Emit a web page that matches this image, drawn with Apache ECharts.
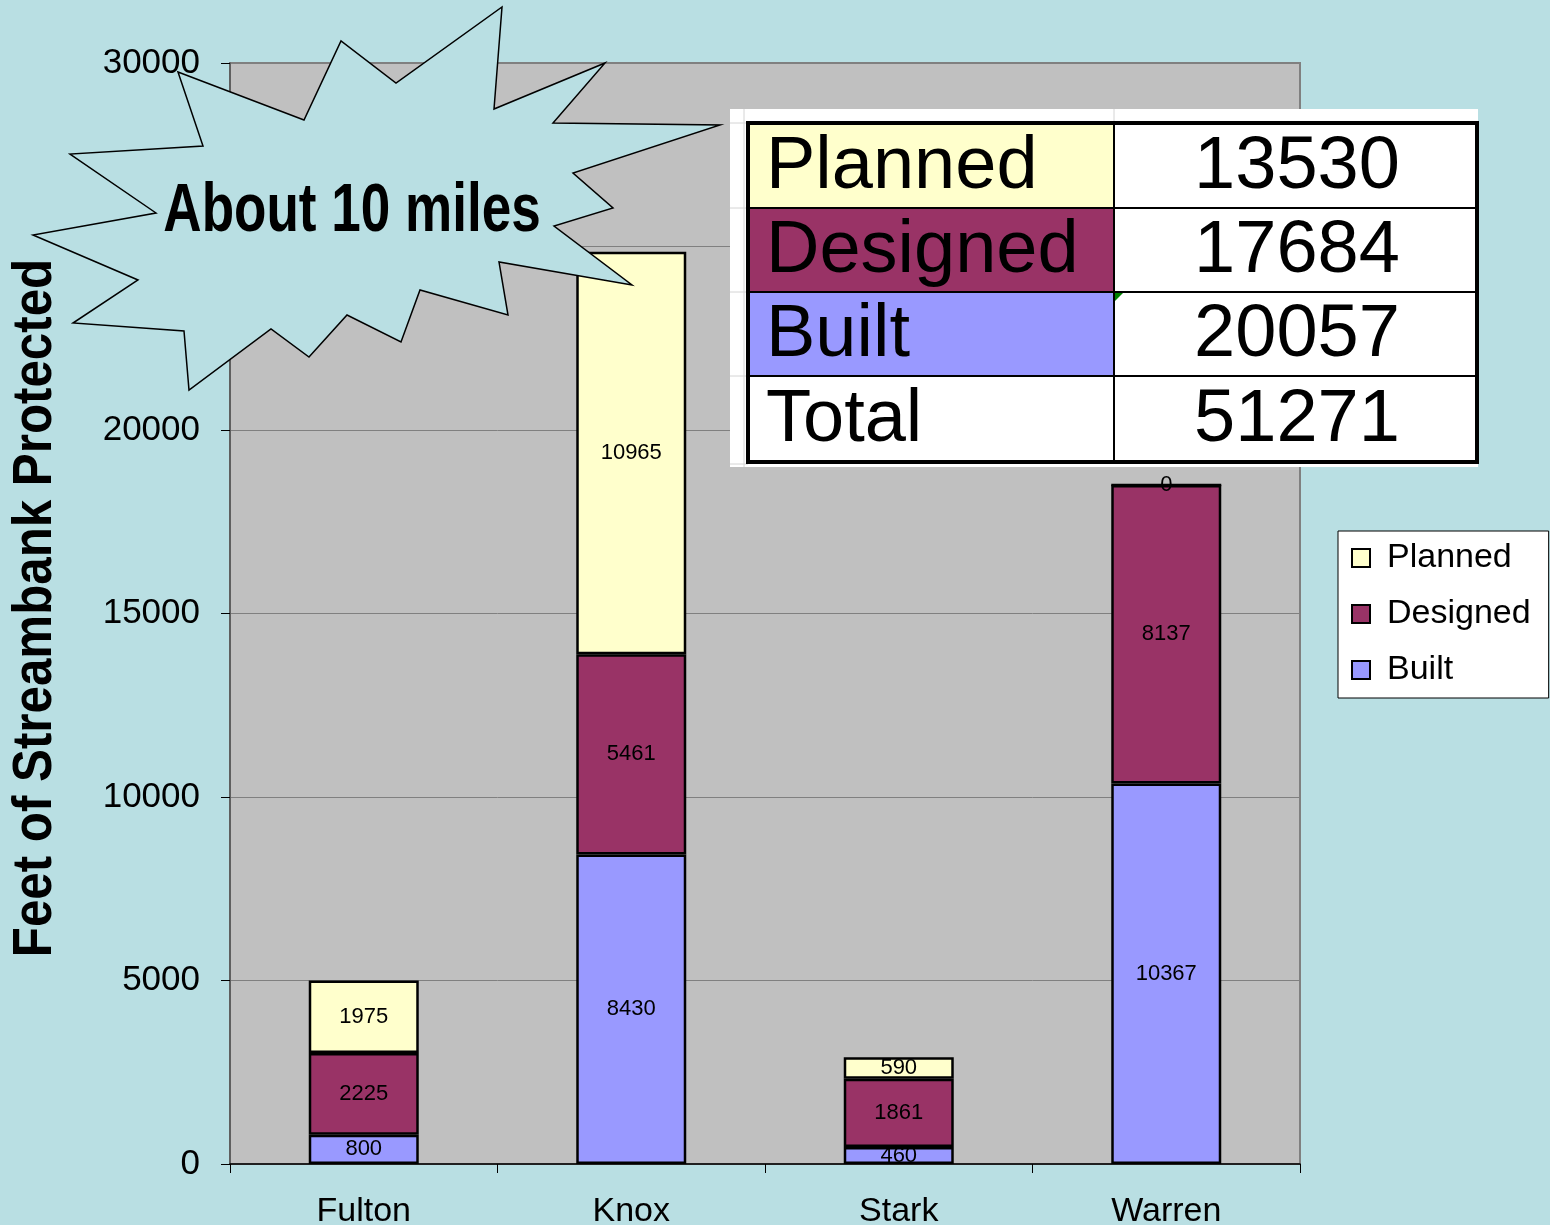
<!DOCTYPE html>
<html><head><meta charset="utf-8">
<script src="https://cdn.jsdelivr.net/npm/echarts@6/dist/echarts.min.js"></script>
<style>html,body{margin:0;padding:0;background:#B9DFE3}#c{width:1550px;height:1225px}</style>
</head><body><div id="c"></div>
<script>
// ---- data ----
const categories = ['Fulton', 'Knox', 'Stark', 'Warren'];
const built = [800, 8430, 460, 10367];
const designed = [2225, 5461, 1861, 8137];
const planned = [1975, 10965, 590, 0];
const legendOrder = ['Planned', 'Designed', 'Built'];
const yTitle = 'Feet of Streambank Protected';
const calloutText = 'About 10 miles';
const tableLabels = ['Planned', 'Designed', 'Built', 'Total'];

const FONT = "'Liberation Sans', Arial, sans-serif";
const COLORS = { Planned: '#FFFFCC', Designed: '#993366', Built: '#9999FF' };

const sum = a => a.reduce((s, v) => s + v, 0);
const tableValues = [sum(planned), sum(designed), sum(built)];
tableValues.push(sum(tableValues));

function barSeries(name, data) {
  return {
    name, type: 'bar', stack: 'total', data, barWidth: 110,
    itemStyle: { color: COLORS[name], borderColor: '#000', borderWidth: 2.5 },
    label: { show: true, position: 'inside', color: '#000', fontSize: 22, fontFamily: FONT },
    emphasis: { disabled: true }
  };
}

// ---- callout starburst (annotation, not data) ----
const star = [[178,72],[304,120],[341,41],[396,83],[502,7],[494,109],[605,63],[553,123],[720,125],[573,173],[613,208],[554,226],[632,285],[499,262],[508,315],[420,290],[401,342],[347,315],[309,357],[271,329],[189,390],[184,331],[73,323],[138,280],[33,235],[156,213],[70,154],[203,146]];

// ---- summary table graphic ----
const Z = 100;
const tX = 748, tR = 1477, tMid = 1114;
const rows = [123, 208, 292, 376, 462];
const cellFill = ['#FFFFCC', '#993366', '#9999FF', '#FFFFFF'];
const els = [];
els.push({ type: 'rect', z: Z, shape: { x: 730, y: 109, width: 748, height: 358 }, style: { fill: '#FFFFFF' } });
[[744,109,744,467],[tMid,109,tMid,123],[730,123,748,123],[730,208,748,208],[730,292,748,292],[730,376,748,376],[730,464,748,464]].forEach(l => {
  els.push({ type: 'line', z: Z, shape: { x1: l[0], y1: l[1], x2: l[2], y2: l[3] }, style: { stroke: '#D4D4D4', lineWidth: 1 } });
});
for (let i = 0; i < 4; i++) {
  els.push({ type: 'rect', z: Z, shape: { x: tX, y: rows[i], width: tMid - tX, height: rows[i+1] - rows[i] }, style: { fill: cellFill[i] } });
  els.push({ type: 'text', z: Z + 2, x: 766, y: (rows[i] + rows[i+1]) / 2 + 2, style: { text: tableLabels[i], font: '74px ' + FONT, fill: '#000', textVerticalAlign: 'middle', textAlign: 'left' } });
  els.push({ type: 'text', z: Z + 2, x: 1297, y: (rows[i] + rows[i+1]) / 2 + 2, style: { text: String(tableValues[i]), font: '74px ' + FONT, fill: '#000', textVerticalAlign: 'middle', textAlign: 'center' } });
}
[208, 292, 376].forEach(y => els.push({ type: 'line', z: Z + 1, shape: { x1: tX, y1: y, x2: tR, y2: y }, style: { stroke: '#000', lineWidth: 2 } }));
els.push({ type: 'line', z: Z + 1, shape: { x1: tMid, y1: rows[0], x2: tMid, y2: rows[4] }, style: { stroke: '#000', lineWidth: 2 } });
els.push({ type: 'rect', z: Z + 1, shape: { x: tX, y: rows[0], width: tR - tX, height: rows[4] - rows[0] }, style: { fill: null, stroke: '#000', lineWidth: 4 } });
els.push({ type: 'polygon', z: Z + 2, shape: { points: [[1115,293],[1123,293],[1115,301]] }, style: { fill: '#008000' } });

// starburst + text
els.push({ type: 'polygon', z: Z + 10, shape: { points: star }, style: { fill: '#B9DFE3', stroke: '#000', lineWidth: 1.5 } });
els.push({ type: 'text', z: Z + 11, x: 352, y: 212, scaleX: 0.78, style: { text: calloutText, font: 'bold 68px ' + FONT, fill: '#000', textAlign: 'center', textVerticalAlign: 'middle' } });
// y-axis title, rotated
els.push({ type: 'text', z: Z, x: 36, y: 608, rotation: Math.PI / 2, scaleX: 0.88, style: { text: yTitle, font: 'bold 56px ' + FONT, fill: '#000', textAlign: 'center', textVerticalAlign: 'middle' } });

const chart = echarts.init(document.getElementById('c'));
chart.setOption({
  animation: false,
  backgroundColor: '#B9DFE3',
  grid: { left: 230, right: 250, top: 63, bottom: 61, containLabel: false, outerBoundsMode: 'none', show: true, backgroundColor: '#C0C0C0', borderColor: '#808080', borderWidth: 2 },
  legend: {
    orient: 'vertical', left: 1338, top: 531, data: legendOrder, selectedMode: false,
    backgroundColor: '#FFFFFF', borderColor: '#000', borderWidth: 1, borderRadius: 0,
    padding: [9, 18, 10, 13], itemWidth: 18, itemHeight: 18, itemGap: 20, icon: 'rect',
    itemStyle: { borderColor: '#000', borderWidth: 2 },
    textStyle: { fontSize: 34, color: '#000', fontFamily: FONT, lineHeight: 36, padding: [0, 0, 0, 12] }
  },
  xAxis: {
    type: 'category', data: categories,
    axisLine: { lineStyle: { color: '#000', width: 1.5 } },
    axisTick: { show: true, length: 9, lineStyle: { color: '#000' } },
    axisLabel: { fontSize: 34, color: '#000', fontFamily: FONT, margin: 31 }
  },
  yAxis: {
    type: 'value', min: 0, max: 30000, interval: 5000,
    axisLine: { show: true, lineStyle: { color: '#555', width: 1.5 } },
    axisTick: { show: true, length: 9, lineStyle: { color: '#000' } },
    axisLabel: { fontSize: 35, color: '#000', fontFamily: FONT, margin: 30, formatter: v => String(v) },
    splitLine: { lineStyle: { color: '#808080', width: 1 } }
  },
  series: [barSeries('Built', built), barSeries('Designed', designed), barSeries('Planned', planned)],
  graphic: els
});
</script></body></html>
